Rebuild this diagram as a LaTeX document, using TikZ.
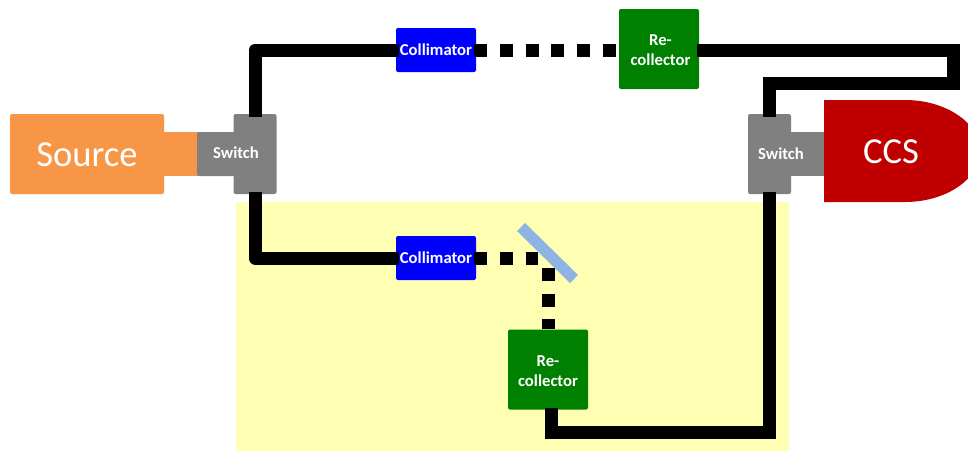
\documentclass[tikz,border=0pt]{standalone}
\usepackage{fontspec}
\setmainfont{Carlito}
\definecolor{cOrange}{HTML}{F79646}
\definecolor{cGray}{HTML}{808080}
\definecolor{cBlue}{HTML}{0000FF}
\definecolor{cGreen}{HTML}{008000}
\definecolor{cRed}{HTML}{C00000}
\definecolor{cYellow}{HTML}{FFFFB3}
\definecolor{cMirror}{HTML}{8EB4E3}
\tikzset{
  box/.style={rectangle,rounded corners=1.5pt,inner sep=0pt,text=white,align=center,
    font=\fontsize{12.5}{15}\selectfont\bfseries},
  collim/.style={box,fill=cBlue,minimum width=60pt,minimum height=33pt},
  recoll/.style={box,fill=cGreen,minimum width=60pt,minimum height=60pt},
  switchbox/.style={box,fill=cGray,minimum width=32.25pt,minimum height=60pt},
  neck/.style={rectangle,inner sep=0pt,minimum height=33pt},
  biglabel/.style={text=white,inner sep=0pt,font=\fontsize{27.5}{32}\selectfont},
  swlabel/.style={text=white,inner sep=0pt,font=\fontsize{12.5}{15}\selectfont\bfseries},
  fibre/.style={draw=black,line width=9.75pt,line cap=butt},
  free/.style={draw=black,line width=9.75pt,line cap=butt,dash pattern=on 9.75pt off 9.5pt},
}
\begin{document}
\begin{tikzpicture}[x=0.75pt,y=-0.75pt]
\clip (0,0) rectangle (968,451);
\fill[white] (0,0) rectangle (968,451);
\fill[cYellow] (236,202) rectangle (789,451);

% source side
\node[neck,fill=cOrange,minimum width=36pt] (srcneck) at (182,154) {};
\node[box,fill=cOrange,minimum width=115.5pt,minimum height=60pt] (source) at (87,154) {};
\node[biglabel] (sourcetxt) at (87,155) {Source};
\node[neck,rounded corners=1.5pt,fill=cGray,minimum width=30pt] (swneckL) at (217,154) {};
\node[switchbox] (swL) at (255,154) {};
\node[swlabel] (swLtxt) at (236,153) {Switch};

% detector side
\node[neck,fill=cGray,minimum width=30pt] (swneckR) at (805,154) {};
\node[switchbox] (swR) at (769.5,154) {};
\fill[cRed] (824,100) -- (905,100) .. controls (946,100) and (980,123) .. (980,151)
  .. controls (980,179) and (946,202) .. (905,202) -- (824,202) -- cycle;
\node[biglabel] (ccs) at (891,152) {CCS};
\node[swlabel] (swRtxt) at (781,154) {Switch};

% components
\node[collim] (colU) at (436,50) {Collimator};
\node[collim] (colL) at (436,258) {Collimator};
\node[recoll] (recU) at (659,49) {};
\node[box] (recUtxt) at (660.5,50) {Re-\\collector};
\node[recoll] (recL) at (548,369.5) {};
\node[box] (recLtxt) at (548,371) {Re-\\collector};

% mirror
\coordinate (mirA) at (521,227);
\coordinate (mirB) at (574,279);
\draw[cMirror,line width=8.5pt] (mirA) -- (mirB);
\coordinate (beamEnd) at (538,258);
\coordinate (beamStart) at (548,268);

% fibres
\draw[fibre,line join=round] ([yshift=-2.25pt]swL.north) -- (swL.north |- colU.west) -- ([xshift=2.25pt]colU.west);
\draw[fibre,line join=round] ([yshift=1.5pt]swL.south) -- (swL.south |- colL.west) -- ([xshift=2.25pt]colL.west);
\coordinate (turnA) at (953,50.8);
\coordinate (turnB) at (953,83.5);
\draw[fibre,line join=miter] ([xshift=-1.5pt]recU.east |- turnA) -- (turnA) -- (turnB) -- (turnB -| swR.north) -- ([yshift=-2.25pt]swR.north);
\coordinate (footL) at (551,432);
\coordinate (footTop) at (551,408);
\draw[fibre,line join=miter] (footTop) -- (footL) -- (footL -| swR.south) -- ([yshift=1.5pt]swR.south);

% free-space beams
\draw[free] ([xshift=-1.5pt]colU.east) -- (recU.west |- colU.east);
\draw[free] ([xshift=-1.5pt]colL.east) -- (beamEnd);
\draw[free] (beamStart) -- (recL.north);
\end{tikzpicture}
\end{document}
